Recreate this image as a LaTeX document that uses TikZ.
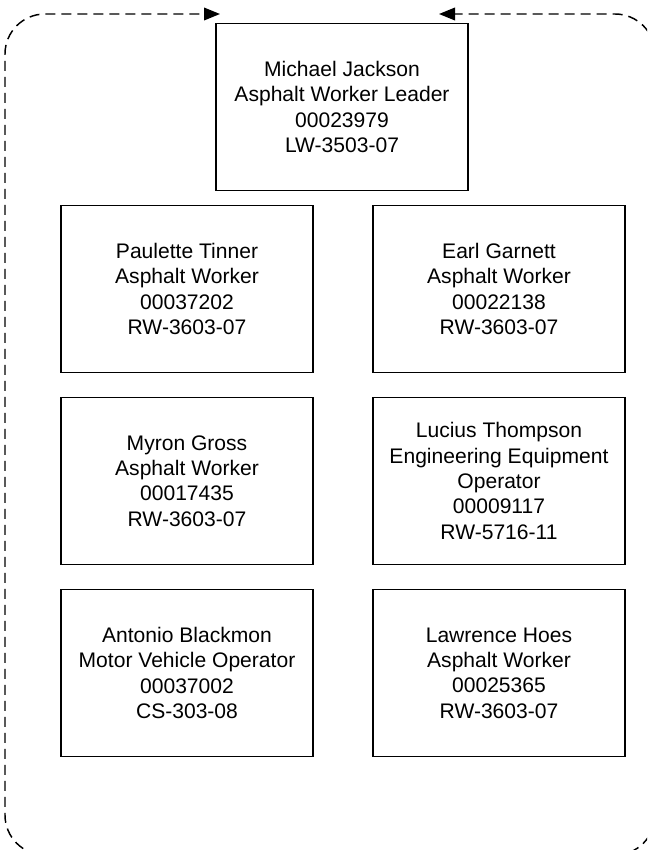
\documentclass[tikz,border=0pt]{standalone}
\usepackage{fontspec}
\setmainfont{Liberation Sans}
\usetikzlibrary{arrows.meta}

\begin{document}
\begin{tikzpicture}[x=0.75pt, y=-0.75pt, >={Triangle[length=12pt, width=9.5pt]},
    staff/.style={draw, line width=1.1pt, minimum width=189pt, minimum height=125pt,
        inner sep=0pt, align=center, font=\fontsize{15.8}{19}\selectfont},
    crewloop/.style={dash pattern=on 7.5pt off 4.5pt, line width=1.1pt, rounded corners=30pt}]
    % --- SETTINGS ---
    \def\colL{187}   % left column centre
    \def\colR{499}   % right column centre
    \def\colM{342}   % leader centre

    % --- FRAME ---
    \clip (0,0) rectangle (647,850);

    % --- LEADER ---
    \node[staff] (leader) at (\colM,107) {Michael Jackson\\Asphalt Worker Leader\\00023979\\LW-3503-07};

    % --- CREW ---
    \node[staff] (tinner)   at (\colL,289) {Paulette Tinner\\Asphalt Worker\\00037202\\RW-3603-07};
    \node[staff] (garnett)  at (\colR,289) {Earl Garnett\\Asphalt Worker\\00022138\\RW-3603-07};
    \node[staff] (gross)    at (\colL,481) {Myron Gross\\Asphalt Worker\\00017435\\RW-3603-07};
    \node[staff] (thompson) at (\colR,481) {Lucius Thompson\\Engineering Equipment\\Operator\\00009117\\RW-5716-11};
    \node[staff] (blackmon) at (\colL,673) {Antonio Blackmon\\Motor Vehicle Operator\\00037002\\CS-303-08};
    \node[staff] (hoes)     at (\colR,673) {Lawrence Hoes\\Asphalt Worker\\00025365\\RW-3603-07};

    % --- DASHED LOOP ---
    \coordinate (loopB)  at (\colM,855);
    \coordinate (loopBL) at (5,855);
    \coordinate (loopTL) at (5,14);
    \coordinate (loopL)  at (220,14);
    \coordinate (loopBR) at (655,855);
    \coordinate (loopTR) at (655,14);
    \coordinate (loopR)  at (439,14);
    \draw[crewloop, ->] (loopB) -- (loopBL) -- (loopTL) -- (loopL);
    \draw[crewloop, ->] (loopB) -- (loopBR) -- (loopTR) -- (loopR);
\end{tikzpicture}
\end{document}
